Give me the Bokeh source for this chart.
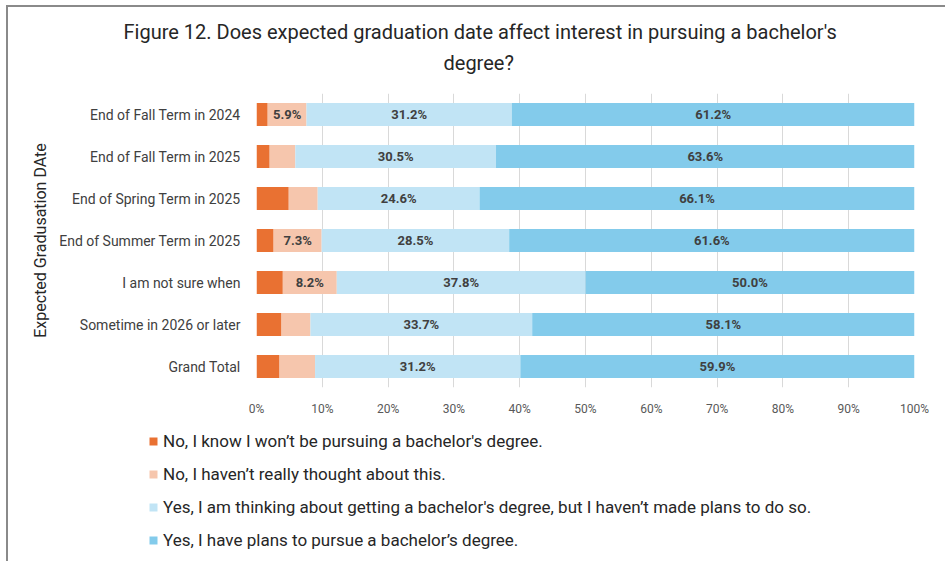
from bokeh.plotting import figure
from bokeh.layouts import column
from bokeh.core.properties import value
from bokeh.models import (ColumnDataSource, FactorRange, Range1d, FixedTicker,
                          PrintfTickFormatter, Legend, LegendItem, Title, LabelSet,
                          InlineStyleSheet)
from bokeh.embed import file_html
from bokeh.resources import INLINE

# ---- data ----
categories = ["End of Fall Term in 2024", "End of Fall Term in 2025",
              "End of Spring Term in 2025", "End of Summer Term in 2025",
              "I am not sure when", "Sometime in 2026 or later", "Grand Total"]
no_wont = [1.7, 2.0, 4.9, 2.6, 4.0, 3.8, 3.5]
no_havent = [5.9, 3.9, 4.4, 7.3, 8.2, 4.4, 5.4]
yes_thinking = [31.2, 30.5, 24.6, 28.5, 37.8, 33.7, 31.2]
yes_plans = [61.2, 63.6, 66.1, 61.6, 50.0, 58.1, 59.9]
series_names = ["No, I know I won\u2019t be pursuing a bachelor's degree.",
                "No, I haven\u2019t really thought about this.",
                "Yes, I am thinking about getting a bachelor's degree, but I haven\u2019t made plans to do so.",
                "Yes, I have plans to pursue a bachelor\u2019s degree."]
tick_values = [0, 10, 20, 30, 40, 50, 60, 70, 80, 90, 100]
colors = ["#E97132", "#F6C6AD", "#C1E4F5", "#83CBEB"]
keys = ["no_wont", "no_havent", "yes_thinking", "yes_plans"]

src = ColumnDataSource(dict(cat=categories, no_wont=no_wont, no_havent=no_havent,
                            yes_thinking=yes_thinking, yes_plans=yes_plans))

W = 937
p = figure(width=W, height=420, title=None,
           y_range=FactorRange(factors=list(reversed(categories))),
           x_range=Range1d(0, 100), output_backend="svg", toolbar_location=None,
           min_border_left=248, min_border_right=31, min_border_top=86,
           min_border_bottom=40)
p.frame_align = False
p.outline_line_color = None
p.background_fill_color = "white"
p.border_fill_color = "white"

renderers = p.hbar_stack(keys, y="cat", height=0.55, color=colors, source=src,
                         line_color=None)

# value labels (centered in segment, only for larger segments)
lx, ly, lt = [], [], []
cols = [no_wont, no_havent, yes_thinking, yes_plans]
for i, c in enumerate(categories):
    left = 0.0
    for s in cols:
        v = s[i]
        if v >= 5.5:
            lx.append(left + v / 2)
            ly.append(c)
            lt.append(f"{v:.1f}%")
        left += v
lab_src = ColumnDataSource(dict(x=lx, y=ly, t=lt))
p.add_layout(LabelSet(x="x", y="y", text="t", source=lab_src, text_align="center",
                      text_baseline="middle", text_font=value("Roboto"),
                      text_font_style="bold", text_font_size="13px",
                      text_color="#404040"))

# axes
p.xaxis.ticker = FixedTicker(ticks=tick_values)
p.xaxis.formatter = PrintfTickFormatter(format="%d%%")
p.xaxis.axis_line_color = None
p.xaxis.major_tick_line_color = None
p.xaxis.minor_tick_line_color = None
p.xaxis.major_label_standoff = 8
p.xaxis.major_label_text_font = "Roboto"
p.xaxis.major_label_text_font_size = "12px"
p.xaxis.major_label_text_color = "#595959"

p.yaxis.axis_line_color = None
p.yaxis.major_tick_line_color = None
p.yaxis.minor_tick_line_color = None
p.yaxis.major_label_standoff = 10
p.yaxis.major_label_text_font = "Roboto"
p.yaxis.major_label_text_font_size = "14px"
p.yaxis.major_label_text_color = "#404040"
p.yaxis.axis_label = "Expected Gradusation DAte"
p.yaxis.axis_label_text_font = "Roboto"
p.yaxis.axis_label_text_font_size = "16px"
p.yaxis.axis_label_text_font_style = "normal"
p.yaxis.axis_label_text_color = "#262626"
p.yaxis.axis_label_standoff = 6

p.xgrid.grid_line_color = "#D9D9D9"
p.xgrid.ticker = FixedTicker(ticks=tick_values)
p.ygrid.grid_line_color = None

# titles (spacer first, then line 2, then line 1 outermost)
spacer = Title(text=" ", standoff=0, text_font_size="12px")
t2 = Title(text="degree?", align="left", offset=187, standoff=5, text_font="Roboto",
           text_font_size="20px", text_font_style="normal", text_color="#262626")
t1 = Title(text="Figure 12. Does expected graduation date affect interest in pursuing a bachelor's",
           align="left", offset=-133, standoff=5, text_font="Roboto", text_font_size="20px",
           text_font_style="normal", text_color="#262626")
p.add_layout(spacer, "above")
p.add_layout(t2, "above")
p.add_layout(t1, "above")

# legend figure (holds legend swatches matching the stacked series)
lg = figure(width=W, height=134, x_range=Range1d(0, 1), y_range=Range1d(0, 1),
            output_backend="svg", toolbar_location=None, x_axis_type=None,
            y_axis_type=None, min_border=0)
lg.frame_align = False
lg.outline_line_color = None
lg.grid.grid_line_color = None
lg_renderers = [lg.hbar(y=[0.5], right=[1.0], height=0.5, color=c, line_color=None,
                        visible=False) for c in colors]
legend = Legend(items=[LegendItem(label=n, renderers=[r]) for n, r in zip(series_names, lg_renderers)],
                location=(140, 11), orientation="vertical", glyph_width=10,
                glyph_height=10, label_height=20, spacing=13, padding=0, margin=0,
                label_standoff=5, label_text_font="Roboto", label_text_font_size="17px",
                label_text_color="#262626", border_line_color=None,
                background_fill_alpha=0)
lg.add_layout(legend)

layout = column(p, lg, spacing=0)
layout.stylesheets.append(InlineStyleSheet(
    css=":host { margin: 5px 0 0 6px; border-top: 2px solid #8a8a8a; border-left: 2px solid #8a8a8a; }"))

open("out.html", "w").write(file_html(layout, INLINE))
